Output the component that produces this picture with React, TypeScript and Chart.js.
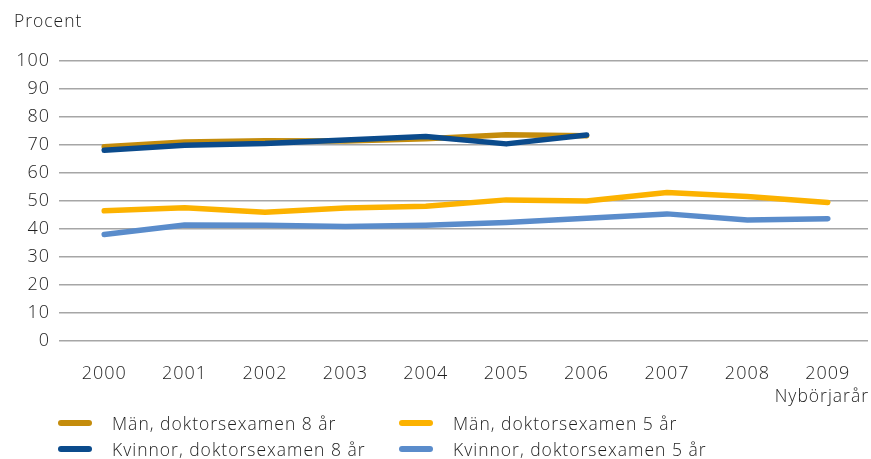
import React, { useEffect, useRef } from "react";
import { Chart, registerables } from "chart.js";

Chart.register(...registerables);

const years = ["2000", "2001", "2002", "2003", "2004", "2005", "2006", "2007", "2008", "2009"];
const manDr8 = [69.4, 71.1, 71.5, 71.4, 72.2, 73.7, 73.3, null, null, null];
const kvinnorDr8 = [68.1, 69.9, 70.5, 71.8, 73.0, 70.4, 73.6, null, null, null];
const manDr5 = [46.5, 47.6, 46.0, 47.5, 48.1, 50.4, 50.0, 53.0, 51.6, 49.5];
const kvinnorDr5 = [38.0, 41.4, 41.3, 40.9, 41.3, 42.3, 43.8, 45.4, 43.2, 43.7];
const yTicks = [0, 10, 20, 30, 40, 50, 60, 70, 80, 90, 100];

const COLORS = {
  manDr8: "#C48C0C",
  kvinnorDr8: "#0B4B8C",
  manDr5: "#FCB200",
  kvinnorDr5: "#5A8CCB",
};

const FONT = "'Open Sans', sans-serif";
const TEXT = "#1e1e1e";
const SPACING = "1px";

const legendItems = [
  { label: "Män, doktorsexamen 8 år", color: COLORS.manDr8 },
  { label: "Män, doktorsexamen 5 år", color: COLORS.manDr5 },
  { label: "Kvinnor, doktorsexamen 8 år", color: COLORS.kvinnorDr8 },
  { label: "Kvinnor, doktorsexamen 5 år", color: COLORS.kvinnorDr5 },
];

const spacingPlugin = {
  id: "spacing",
  beforeUpdate: (chart: any) => {
    (chart.ctx as any).letterSpacing = SPACING;
  },
  beforeDraw: (chart: any) => {
    (chart.ctx as any).letterSpacing = SPACING;
  },
};

export default function App() {
  const ref = useRef<HTMLCanvasElement | null>(null);

  useEffect(() => {
    if (!ref.current) return;
    const mk = (label: string, data: (number | null)[], color: string) => ({
      label,
      data,
      borderColor: color,
      backgroundColor: color,
      borderWidth: 5.5,
      borderCapStyle: "round" as const,
      borderJoinStyle: "round" as const,
      pointRadius: 0,
      tension: 0,
      spanGaps: false,
    });
    const chart = new Chart(ref.current, {
      type: "line",
      plugins: [spacingPlugin],
      data: {
        labels: years,
        datasets: [
          mk("Kvinnor, doktorsexamen 8 år", kvinnorDr8, COLORS.kvinnorDr8),
          mk("Män, doktorsexamen 8 år", manDr8, COLORS.manDr8),
          mk("Kvinnor, doktorsexamen 5 år", kvinnorDr5, COLORS.kvinnorDr5),
          mk("Män, doktorsexamen 5 år", manDr5, COLORS.manDr5),
        ],
      },
      options: {
        animation: false,
        responsive: false,
        maintainAspectRatio: false,
        layout: { padding: { left: 0, right: 3, top: 61, bottom: 68 } },
        plugins: { legend: { display: false }, tooltip: { enabled: false } },
        scales: {
          x: {
            offset: true,
            grid: { display: false },
            border: { display: false },
            ticks: {
              color: TEXT,
              font: { family: FONT, size: 18, weight: 300 as any },
              padding: 14,
              maxRotation: 0,
              autoSkip: false,
            },
            afterFit: (s: any) => {
              s.height = 50;
            },
          },
          y: {
            min: 0,
            max: 100,
            afterBuildTicks: (s: any) => {
              s.ticks = yTicks.map((v) => ({ value: v }));
            },
            grid: {
              color: "#A6A6A6",
              lineWidth: 1.5,
              drawTicks: true,
              tickLength: 5,
            },
            border: { display: false },
            ticks: {
              color: TEXT,
              font: { family: FONT, size: 18, weight: 300 as any },
              padding: 9,
            },
            afterFit: (s: any) => {
              s.width = 64;
            },
          },
        },
      },
    });
    return () => chart.destroy();
  }, []);

  const textStyle = { fontSize: 17.5, fontWeight: 300, letterSpacing: SPACING } as const;

  return (
    <div style={{ position: "absolute", left: 0, top: 0, width: 871, height: 459, background: "#fff", fontFamily: FONT, color: TEXT }}>
      <canvas ref={ref} width={871} height={459} style={{ position: "absolute", left: 0, top: 0 }} />
      <div style={{ position: "absolute", left: 14, top: 8, ...textStyle }}>Procent</div>
      <div style={{ position: "absolute", right: 2, top: 383, ...textStyle }}>Nybörjarår</div>
      {legendItems.map((it, i) => (
        <div
          key={it.label}
          style={{
            position: "absolute",
            left: i % 2 === 0 ? 58 : 399,
            top: i < 2 ? 411 : 437,
            height: 24,
            display: "flex",
            alignItems: "center",
            whiteSpace: "nowrap",
            ...textStyle,
          }}
        >
          <span style={{ display: "inline-block", width: 34, height: 6, borderRadius: 3, background: it.color, marginRight: 20 }} />
          <span>{it.label}</span>
        </div>
      ))}
    </div>
  );
}
